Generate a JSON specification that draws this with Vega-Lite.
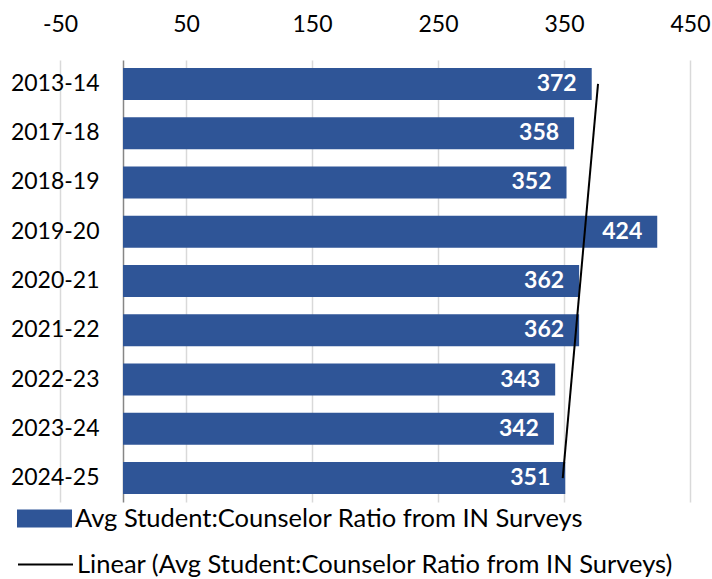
{
  "$schema": "https://vega.github.io/schema/vega-lite/v6.json",
  "width": 630,
  "height": 442,
  "autosize": {"type": "none"},
  "padding": {"left": 60, "top": 60, "right": 22, "bottom": 77},
  "config": {"view": {"stroke": null}, "font": "Lato"},
  "datasets": {
    "bars": [
      {"year": "2013-14", "ratio": 372},
      {"year": "2017-18", "ratio": 358},
      {"year": "2018-19", "ratio": 352},
      {"year": "2019-20", "ratio": 424},
      {"year": "2020-21", "ratio": 362},
      {"year": "2021-22", "ratio": 362},
      {"year": "2022-23", "ratio": 343},
      {"year": "2023-24", "ratio": 342},
      {"year": "2024-25", "ratio": 351}
    ],
    "trend": [
      {"year": "2013-14", "ratio": 377},
      {"year": "2024-25", "ratio": 349}
    ]
  },
  "layer": [
    {
      "data": {"name": "bars"},
      "mark": {"type": "bar"},
      "encoding": {
        "y": {
          "field": "year", "type": "nominal", "sort": null,
          "scale": {"paddingInner": 0.35, "paddingOuter": 0.16},
          "axis": {"title": null, "offset": -63, "ticks": false, "labelPadding": 24, "domainColor": "#868686", "domainWidth": 1.5, "labelFontSize": 23, "labelColor": "black", "grid": false}
        },
        "x": {
          "field": "ratio", "type": "quantitative",
          "scale": {"domain": [-50, 450], "nice": false, "zero": false},
          "axis": {"orient": "top", "title": null, "values": [-50, 50, 150, 250, 350, 450], "labelExpr": "datum.value < 0 ? '-' + abs(datum.value) : datum.label", "grid": true, "gridColor": "#d9d9d9", "gridWidth": 1.5, "domain": false, "ticks": false, "labelPadding": 24, "labelFontSize": 23, "labelColor": "black", "labelFlush": false}
        },
        "x2": {"datum": 0},
        "fill": {
          "datum": "Avg Student:Counselor Ratio from IN Surveys", "type": "nominal",
          "scale": {"range": ["#2F5597"]},
          "legend": {"orient": "none", "legendX": -43, "legendY": 431, "title": null, "symbolType": "M-1,-0.33H1V0.33H-1Z", "symbolSize": 3025, "symbolStrokeWidth": 0, "labelFontSize": 25.5, "labelColor": "black", "labelLimit": 700, "labelOffset": 3}
        }
      }
    },
    {
      "data": {"name": "bars"},
      "mark": {"type": "text", "align": "right", "baseline": "middle", "dx": -15, "color": "white", "fontWeight": "bold", "fontSize": 23},
      "encoding": {
        "y": {"field": "year", "type": "nominal", "sort": null},
        "x": {"field": "ratio", "type": "quantitative"},
        "text": {"field": "ratio", "type": "quantitative"}
      }
    },
    {
      "data": {"name": "trend"},
      "mark": {"type": "line", "strokeWidth": 2},
      "encoding": {
        "y": {"field": "year", "type": "nominal", "sort": null},
        "x": {"field": "ratio", "type": "quantitative"},
        "stroke": {
          "datum": "Linear (Avg Student:Counselor Ratio from IN Surveys)", "type": "nominal",
          "scale": {"range": ["black"]},
          "legend": {"orient": "none", "legendX": -43, "legendY": 476, "title": null, "symbolType": "stroke", "symbolSize": 3025, "symbolStrokeWidth": 2, "labelFontSize": 25.5, "labelColor": "black", "labelLimit": 700, "labelOffset": 3}
        }
      }
    }
  ]
}
